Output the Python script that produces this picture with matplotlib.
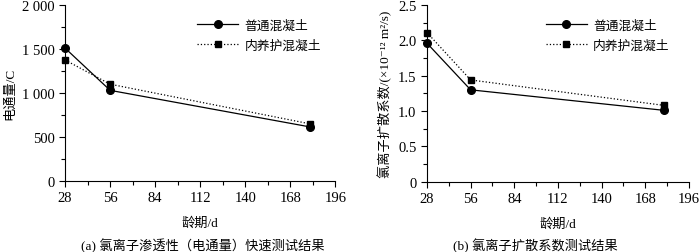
import matplotlib.pyplot as plt
from matplotlib.ticker import MultipleLocator, FuncFormatter

plt.rcParams['font.family'] = ['Liberation Serif', 'DejaVu Serif', 'Noto Sans CJK SC']
plt.rcParams['axes.unicode_minus'] = False

# 龄期 (d)
ages = [28, 56, 180]

# (a) 电通量 / C
flux_normal = [1510, 1030, 615]
flux_internal = [1375, 1100, 650]

# (b) 氯离子扩散系数 ×1e-12 m2/s
diff_normal = [1.96, 1.30, 1.01]
diff_internal = [2.11, 1.44, 1.08]

labels = ['普通混凝土', '内养护混凝土']

fig = plt.figure(figsize=(7, 2.53), dpi=100)
ax1 = fig.add_axes([0.093, 0.281, 0.386, 0.695])
ax2 = fig.add_axes([0.610, 0.278, 0.374, 0.698])


def style(ax):
    for s in ['top', 'right']:
        ax.spines[s].set_visible(False)
    for s in ['left', 'bottom']:
        ax.spines[s].set_linewidth(0.8)
    ax.set_xlim(28, 196)
    ax.xaxis.set_major_locator(MultipleLocator(28))
    ax.xaxis.set_minor_locator(MultipleLocator(14))
    ax.tick_params(which='major', direction='out', length=4, width=0.8, labelsize=10.5)
    ax.tick_params(which='minor', direction='out', length=3, width=0.8)
    ax.set_xlabel('龄期/d', fontsize=9.5, labelpad=9)


def draw(ax, a, b, anchor):
    ax.plot(ages, a, '-', color='black', lw=0.9, marker='o', ms=5.5, label=labels[0], clip_on=False)
    ax.plot(ages, b, ':', color='black', lw=0.9, marker='s', ms=4.5, label=labels[1], clip_on=False)
    ax.legend(loc='upper right', bbox_to_anchor=anchor, frameon=False,
              fontsize=9.2, handlelength=3.2, handletextpad=0.5, labelspacing=0.6)


draw(ax1, flux_normal, flux_internal, (0.99, 0.985))
style(ax1)
ax1.set_ylim(0, 2000)
ax1.yaxis.set_major_locator(MultipleLocator(500))
ax1.yaxis.set_minor_locator(MultipleLocator(250))
ax1.yaxis.set_major_formatter(FuncFormatter(lambda v, p: f'{int(v):,}'.replace(',', ' ')))
ax1.set_ylabel('电通量/C', fontsize=9.5, labelpad=4)
fig.text(0.29, 0.01, '(a) 氯离子渗透性（电通量）快速测试结果', ha='center', fontsize=9.5)

draw(ax2, diff_normal, diff_internal, (0.97, 0.985))
style(ax2)
ax2.set_ylim(0, 2.5)
ax2.yaxis.set_major_locator(MultipleLocator(0.5))
ax2.yaxis.set_minor_locator(MultipleLocator(0.25))
ax2.yaxis.set_major_formatter(FuncFormatter(lambda v, p: '0' if v == 0 else f'{v:.1f}'))
ax2.set_ylabel('氯离子扩散系数/(×10⁻¹² m²/s)', fontsize=9.5, labelpad=4)
fig.text(0.765, 0.01, '(b) 氯离子扩散系数测试结果', ha='center', fontsize=9.5)

fig.savefig('out.png', dpi=100)
